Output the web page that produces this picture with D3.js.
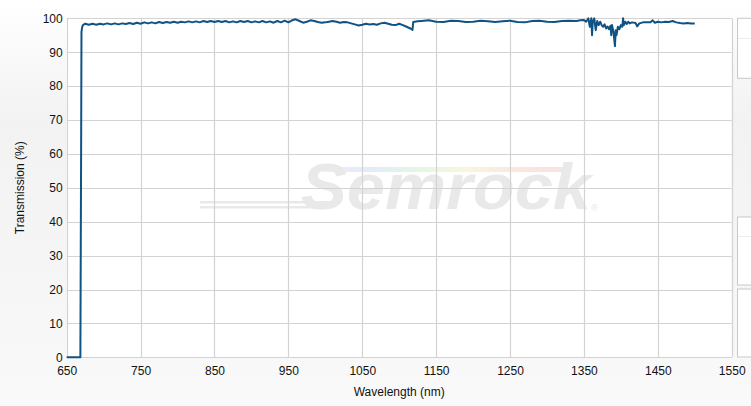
<!DOCTYPE html>
<html><head><meta charset="utf-8">
<script src="https://cdn.jsdelivr.net/npm/d3@7"></script>
<style>html,body{margin:0;padding:0;background:#fff;}svg{display:block;font-family:"Liberation Sans",Arial,sans-serif;}</style>
</head><body>
<svg id="c" width="751" height="406"></svg>
<script>
const xTicks = [650,750,850,950,1050,1150,1250,1350,1450,1550];
const yTicks = [0,10,20,30,40,50,60,70,80,90,100];
const wavelength = [650,660,668.5,669.5,670,671,672,675,680,685,690,695,700,705,710,715,720,725,730,735,740,745,750,755,760,765,770,775,780,785,790,795,800,805,810,815,820,825,830,835,840,845,850,855,860,865,870,875,880,885,890,895,900,905,910,915,920,925,930,935,940,945,950,955,960,965,970,975,980,985,990,995,1000,1005,1010,1015,1020,1025,1030,1035,1040,1045,1050,1055,1060,1065,1070,1075,1080,1085,1090,1095,1100,1105,1110,1115,1118,1119,1125,1130,1140,1150,1160,1170,1180,1190,1200,1210,1220,1230,1240,1250,1260,1270,1280,1290,1300,1310,1320,1330,1340,1345,1350,1353,1356,1358,1360,1361,1362,1364,1366,1368,1370,1372,1374,1376,1378,1380,1382,1384,1386,1387,1388,1390,1392,1393,1394,1396,1398,1400,1402,1403,1404,1406,1408,1410,1412,1415,1420,1422,1425,1430,1440,1443,1446,1450,1455,1460,1465,1470,1475,1480,1485,1490,1495,1500];
const transmission = [0,0,0,60,96,97.5,98.0,98.4,98.1,98.4,98.1,98.4,98.2,98.5,98.2,98.5,98.2,98.5,98.3,98.6,98.3,98.7,98.4,98.8,98.5,98.8,98.5,98.9,98.6,98.9,98.7,99.0,98.7,99.0,98.8,99.1,98.8,99.1,98.8,99.2,98.9,99.2,98.9,99.2,98.9,99.2,98.8,99.1,98.8,99.2,98.9,99.2,98.8,99.1,98.8,99.2,98.8,99.1,98.7,99.2,98.8,99.3,98.8,99.4,99.7,99.2,98.7,99.0,99.4,99.2,98.9,98.7,98.8,99.0,99.2,99.0,98.7,98.9,98.8,98.5,98.2,97.9,98.1,98.4,98.2,98.3,98.1,98.5,98.7,98.4,98.1,98.0,98.4,98.0,97.5,97.0,96.6,98.9,99.1,99.2,99.4,99.0,98.9,99.3,99.2,98.9,99.0,99.3,99.1,98.9,99.1,99.3,98.9,98.8,99.2,99.3,99.0,98.9,99.2,99.3,99.2,99.4,99.5,99.0,100.0,97.5,100.0,95.0,99.0,100.0,96.5,99.2,98.0,99.0,98.0,97.5,98.2,97.0,97.6,96.8,97.8,95.0,98.0,96.0,91.8,96.5,95.0,97.5,96.8,98.0,97.5,100.0,98.0,99.0,98.3,99.0,98.5,98.8,98.6,97.6,98.5,98.8,98.8,99.4,98.7,99.0,98.8,99.0,98.9,99.2,98.8,98.6,98.5,98.6,98.5,98.5];

const svg = d3.select("#c");
const W = 751, H = 406;
const m = {left:66.7, right:731.7, top:18.3, bottom:357.3};

const defs = svg.append("defs");
const bg = defs.append("linearGradient").attr("id","bg").attr("x1",0).attr("y1",0).attr("x2",0).attr("y2",1);
bg.append("stop").attr("offset","0").attr("stop-color","#ffffff");
bg.append("stop").attr("offset","0.3").attr("stop-color","#f2f2f2");
bg.append("stop").attr("offset","1").attr("stop-color","#f9f9f9");
const rb = defs.append("linearGradient").attr("id","rb").attr("x1",0).attr("y1",0).attr("x2",1).attr("y2",0);
[["0","#eeeef8"],["0.2","#e3eafb"],["0.4","#e4f6e4"],["0.6","#f8f6dd"],["0.8","#fbe7dd"],["1","#f6e3e3"]].forEach(s=>rb.append("stop").attr("offset",s[0]).attr("stop-color",s[1]));

svg.append("rect").attr("width",W).attr("height",H).attr("fill","url(#bg)");

const x = d3.scaleLinear().domain([650,1550]).range([m.left,m.right]);
const y = d3.scaleLinear().domain([0,100]).range([m.bottom,m.top]);

svg.append("rect").attr("x",m.left).attr("y",m.top).attr("width",m.right-m.left).attr("height",m.bottom-m.top).attr("fill","#fff");

// right-side boxes
[[18.3,78.3],[217,285],[289,357]].forEach(b=>{
  svg.append("rect").attr("x",737.5).attr("y",b[0]).attr("width",20).attr("height",b[1]-b[0]).attr("fill","#fff").attr("stroke","#c8c8c8");
});
svg.append("line").attr("x1",738).attr("x2",751).attr("y1",38.5).attr("y2",38.5).attr("stroke","#eeeeee");
svg.append("line").attr("x1",738).attr("x2",751).attr("y1",236.5).attr("y2",236.5).attr("stroke","#eeeeee");

// watermark
const wm = svg.append("g");
wm.append("rect").attr("x",322).attr("y",167).attr("width",240).attr("height",5).attr("fill","url(#rb)");
wm.append("rect").attr("x",200).attr("y",201).attr("width",130).attr("height",2.5).attr("fill","#e9e9e9");
wm.append("rect").attr("x",200).attr("y",206).attr("width",125).attr("height",2.5).attr("fill","#e9e9e9");
wm.append("text").attr("x",301).attr("y",209).attr("font-size",64).attr("font-weight","bold").attr("font-style","italic")
  .attr("textLength",290).attr("lengthAdjust","spacingAndGlyphs").attr("fill","#e9e9e9").text("Semrock");
wm.append("text").attr("x",591).attr("y",211).attr("font-size",9).attr("fill","#e6e6e6").text("®");

// grid
const grid = svg.append("g").attr("stroke","#d3d3d3").attr("stroke-width",1.2);
xTicks.forEach(t=>grid.append("line").attr("x1",Math.round(x(t))+0.5).attr("x2",Math.round(x(t))+0.5).attr("y1",m.top).attr("y2",m.bottom));
yTicks.forEach(t=>grid.append("line").attr("x1",m.left).attr("x2",m.right).attr("y1",Math.round(y(t))+0.5).attr("y2",Math.round(y(t))+0.5));

// axes labels via d3 axes
const xAxis = d3.axisBottom(x).tickValues(xTicks).tickSize(0).tickPadding(9).tickFormat(d3.format("d"));
const gx = svg.append("g").attr("transform",`translate(0,${m.bottom})`).call(xAxis);
gx.select(".domain").remove();
gx.selectAll("text").attr("font-size",12).attr("fill","#111").attr("font-family","Liberation Sans, Arial, sans-serif");
const yAxis = d3.axisLeft(y).tickValues(yTicks).tickSize(0).tickPadding(4).tickFormat(d3.format("d"));
const gy = svg.append("g").attr("transform",`translate(${m.left},0)`).call(yAxis);
gy.select(".domain").remove();
gy.selectAll("text").attr("font-size",12).attr("fill","#111").attr("font-family","Liberation Sans, Arial, sans-serif");

svg.append("text").attr("x",(m.left+m.right)/2).attr("y",396).attr("text-anchor","middle").attr("font-size",12).attr("fill","#111").text("Wavelength (nm)");
svg.append("text").attr("transform",`translate(24,${(m.top+m.bottom)/2}) rotate(-90)`).attr("text-anchor","middle").attr("font-size",12).attr("fill","#111").text("Transmission (%)");

// data line
const data = wavelength.map((w,i)=>({w, t:transmission[i]}));
svg.append("path").datum(data).attr("fill","none").attr("stroke","#0f5384").attr("stroke-width",2).attr("stroke-linejoin","round")
  .attr("d", d3.line().x(d=>x(d.w)).y(d=>y(d.t)));
</script>
</body></html>
